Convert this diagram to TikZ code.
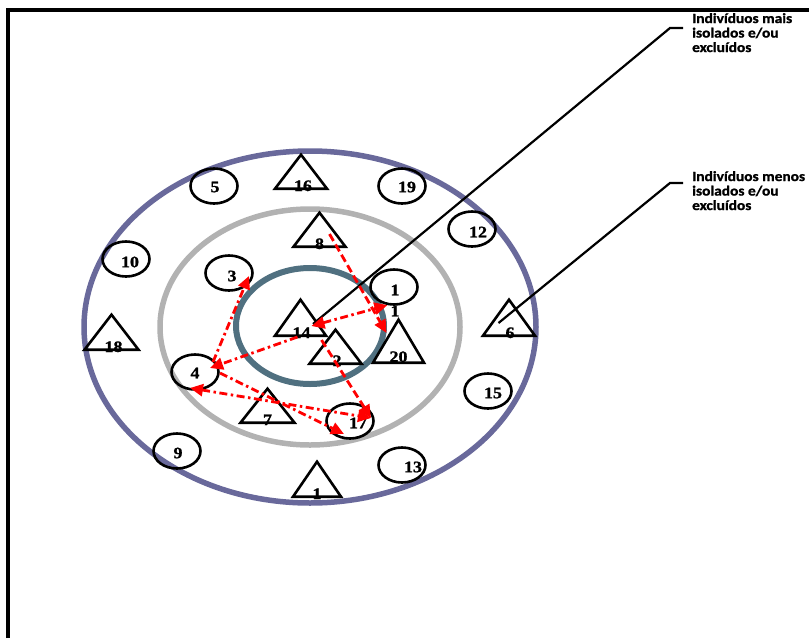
\documentclass[tikz,border=0pt]{standalone}
\usepackage{fontspec}
\usetikzlibrary{shapes.geometric, arrows.meta}
\newfontfamily\idserif{Liberation Serif}[FakeStretch=1.12, FakeBold=1.2]
\newfontfamily\notesans{Carlito}[FakeStretch=1.1, FakeBold=1.2]
\newcommand{\idfont}{\idserif\bfseries\fontsize{16}{16}\selectfont}
\newcommand{\notefont}{\notesans\bfseries\fontsize{14}{14.5}\selectfont}
\definecolor{ringout}{RGB}{105,105,155}
\definecolor{ringmid}{RGB}{178,178,178}
\definecolor{ringin}{RGB}{80,112,128}

\begin{document}
\begin{tikzpicture}[
    x=1pt, y=-1pt,
    >={Triangle[length=13pt,width=12pt]},
    ind/.style={draw, ellipse, line width=2.6pt, minimum width=47pt,
      minimum height=35pt, inner sep=0pt},
    tri/.style={draw, isosceles triangle, isosceles triangle stretches,
      shape border rotate=90, line width=2.6pt, minimum width=52pt,
      minimum height=34pt, inner sep=0pt, anchor=south},
    num/.style={font=\idfont, inner sep=0pt},
    tnum/.style={num, anchor=base, yshift=-1pt},
    ring/.style={line width=5.5pt},
    rel/.style={red, line width=2.8pt},
    rdash/.style={rel, dash pattern=on 8pt off 4pt},
    rdot/.style={rel, dash pattern=on 8pt off 3.5pt on 2.5pt off 3.5pt},
    lead/.style={line width=2.2pt},
    note/.style={font=\notefont, align=left, anchor=north west, inner sep=0pt}
  ]
    \useasboundingbox (0,0) rectangle (809,638);

    % --- moldura ---
    \draw[line width=4pt] (8,638) -- (8,10) -- (809,10);

    % --- anéis ---
    \draw[ring, ringout] (310,327) ellipse [x radius=226, y radius=176];
    \draw[ring, ringmid] (310,327) ellipse [x radius=150, y radius=118];
    \draw[ring, ringin, line width=6pt] (310,326) ellipse [x radius=74, y radius=58];

    % --- indivíduos (círculos) ---
    \node[ind, label={[num, xshift=1pt, yshift=-1pt]center:5}]  (c5)  at (214,186) {};
    \node[ind, label={[num, xshift=5pt, yshift=-1pt]center:19}] (c19) at (402,186) {};
    \node[ind, label={[num, xshift=6pt, yshift=-3pt]center:12}] (c12) at (472,229) {};
    \node[ind, label={[num, xshift=4pt, yshift=-3pt]center:10}] (c10) at (126,259) {};
    \node[ind, label={[num, xshift=3pt, yshift=-3pt]center:3}]  (c3)  at (229,273) {};
    \node[ind, label={[num, xshift=1pt, yshift=-3pt]center:1}]  (c1)  at (394,287) {};
    \node[num] (x1) at (395,311) {1};
    \node[ind, label={[num, yshift=-1pt]center:4}]              (c4)  at (195,372) {};
    \node[ind, label={[num, xshift=1pt, yshift=-2pt]center:9}]  (c9)  at (177,451) {};
    \node[ind, label={[num, xshift=8pt, yshift=-2pt]center:17}] (c17) at (350,421) {};
    \node[ind, label={[num, xshift=5pt, yshift=-2pt]center:15}] (c15) at (488,391) {};
    \node[ind, label={[num, xshift=11pt, yshift=-2pt]center:13}] (c13) at (402,465) {};

    % --- indivíduos (triângulos) ---
    \node[tri, label={[tnum, xshift=2pt]south:16}] (t16) at (301,190) {};
    \node[tri, label={[tnum]south:8}]              (t8)  at (319.5,248) {};
    \node[tri, minimum width=51pt, minimum height=36pt,
          label={[tnum, xshift=1pt]south:14}]      (t14) at (300.5,337) {};
    \node[tri, label={[tnum, xshift=1.5pt]south:2}] (t2) at (335.5,365) {};
    \node[tri, minimum width=51pt, minimum height=43pt,
          label={[tnum, yshift=3pt]south:20}]      (t20) at (398.5,364) {};
    \node[tri, minimum height=36pt,
          label={[tnum, xshift=1pt]south:6}]       (t6)  at (509,337) {};
    \node[tri, minimum width=54pt, minimum height=35pt,
          label={[tnum, xshift=2pt]south:18}]      (t18) at (111.5,351) {};
    \node[tri, minimum width=54pt,
          label={[tnum]south:7}]                   (t7)  at (267.5,424) {};
    \node[tri, minimum width=48pt, minimum height=35pt,
          label={[tnum]south:1}]                   (t1)  at (317,498) {};

    % --- legendas ---
    \node[note] (n1) at (692,13) {Indivíduos mais\\isolados e/ou\\excluídos};
    \node[note] (n2) at (692,171) {Indivíduos menos\\isolados e/ou\\excluídos};
    \coordinate (e1) at (683,28);
    \coordinate (e2) at (683,183);
    \draw[lead] ([xshift=12.5pt,yshift=13pt]t14.south) -- ([xshift=-13pt]e1) -- (e1);
    \draw[lead] ([xshift=-10.5pt,yshift=14pt]t6.south) -- ([xshift=-13pt]e2) -- (e2);

    % --- relações ---
    \draw[rdash, ->] ([xshift=10pt,yshift=14pt]t8.south) -- ([xshift=-12pt,yshift=31pt]t20.south);
    \draw[rdot, <->] ([xshift=11pt,yshift=11pt]t14.south) -- (c1.250);
    \draw[rdot, ->] ([xshift=-3pt]t14.south) -- ([xshift=15pt,yshift=4pt]c4.center);
    \draw[rdot, ->] ([xshift=18pt,yshift=10pt]c4.center) -- ([xshift=20pt,yshift=-3pt]c3.center);
    \draw[rdot, ->] ([xshift=25pt,yshift=-1pt]c4.center) -- ([xshift=-6pt,yshift=-13pt]c17.center);
    \draw[rdot, <->] ([xshift=-5pt,yshift=-16pt]c4.center) -- ([xshift=21pt,yshift=3pt]c17.center);
    \draw[rdash, ->] ([xshift=21pt,yshift=-3pt]t14.south) -- ([xshift=21pt,yshift=3pt]c17.center);
  \end{tikzpicture}
\end{document}
